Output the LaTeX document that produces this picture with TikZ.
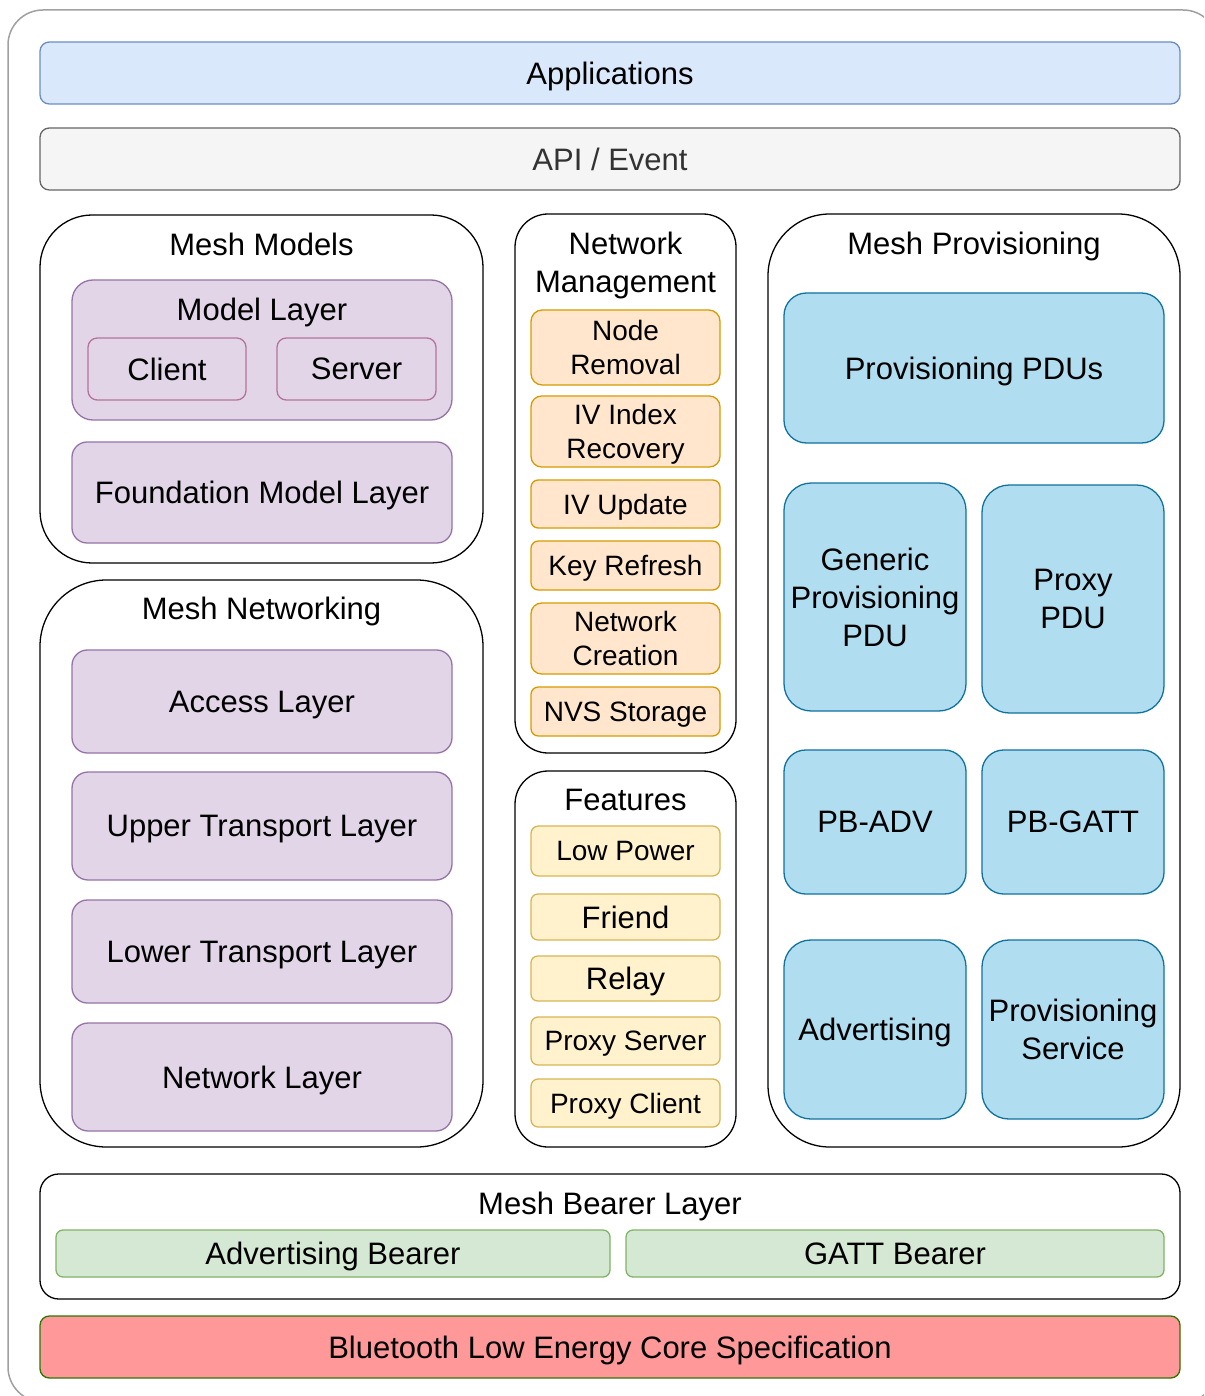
\documentclass[tikz,border=0pt]{standalone}
\usepackage{fontspec}
\setmainfont{Liberation Sans}
\definecolor{appF}{HTML}{DAE8FC}\definecolor{appS}{HTML}{6C8EBF}
\definecolor{apiF}{HTML}{F5F5F5}\definecolor{apiS}{HTML}{666666}\definecolor{apiT}{HTML}{333333}
\definecolor{purF}{HTML}{E1D5E7}\definecolor{purS}{HTML}{9673A6}\definecolor{pinkS}{HTML}{B5739D}
\definecolor{orF}{HTML}{FFE6CC}\definecolor{orS}{HTML}{D79B00}
\definecolor{yeF}{HTML}{FFF2CC}\definecolor{yeS}{HTML}{D6B656}
\definecolor{blF}{HTML}{B1DDF0}\definecolor{blS}{HTML}{10739E}
\definecolor{grF}{HTML}{D5E8D4}\definecolor{grS}{HTML}{82B366}
\definecolor{reF}{HTML}{FF9999}\definecolor{reS}{HTML}{2D7600}
\definecolor{frameS}{HTML}{A0A0A0}
\newcommand\bx[7]{%
  \pgfmathsetmacro\bw{#5-#3}\pgfmathsetmacro\bh{#6-#4}%
  \pgfmathsetmacro\br{0.15*min(\bw,\bh)}%
  \pgfmathsetmacro\bcx{(#3+#5)/2}\pgfmathsetmacro\bcy{(#4+#6)/2}%
  \node[#2, minimum width=\bw pt, minimum height=\bh pt, rounded corners=\br pt] (#1) at (\bcx,\bcy) {#7};}
\tikzset{
  every node/.style={font=\fontsize{31}{38}\selectfont, text depth=0pt, align=center, inner sep=0pt, outer sep=0pt},
  lw/.style={line width=1.3pt},
  cont/.style={lw, draw=black, fill=white},
  appbox/.style={lw, draw=appS, fill=appF},
  apibox/.style={lw, draw=apiS, fill=apiF, text=apiT},
  purbox/.style={lw, draw=purS, fill=purF},
  pinkbox/.style={lw, draw=pinkS},
  orbox/.style={lw, draw=orS, fill=orF, font=\fontsize{28}{34}\selectfont},
  yebox/.style={lw, draw=yeS, fill=yeF, font=\fontsize{28}{34}\selectfont},
  yebig/.style={lw, draw=yeS, fill=yeF},
  blbox/.style={lw, draw=blS, fill=blF},
  grbox/.style={lw, draw=grS, fill=grF},
  rebox/.style={lw, draw=reS, fill=reF},
  ttl/.style={},
}
\begin{document}
\begin{tikzpicture}[x=1pt,y=-1pt]
\useasboundingbox (0,0) rectangle (1204,1396);
\begin{scope}
\clip (0,0) rectangle (1204,1396);
\draw[frameS, line width=1.5pt, rounded corners=35pt] (8,10) rectangle (1218,1402);
\end{scope}
% top layers
\bx{app}{appbox}{40}{42}{1180}{104}{Applications}
\bx{api}{apibox}{40}{128}{1180}{190}{API / Event}
% Mesh Models
\bx{mm}{cont}{40}{215}{483}{563}{}
\node[ttl] (mmT) at (261.5,244) {Mesh Models};
\bx{ml}{purbox}{72}{280}{452}{420}{}
\node[ttl] (mlT) at (262,309) {Model Layer};
\bx{cli}{pinkbox}{88}{338}{246}{400}{Client}
\bx{srv}{pinkbox}{277}{338}{436}{400}{Server}
\bx{fml}{purbox}{72}{442}{452}{543}{Foundation Model Layer}
% Mesh Networking
\bx{mn}{cont}{40}{580}{483}{1147}{}
\node[ttl] (mnT) at (261.5,608) {Mesh Networking};
\bx{acc}{purbox}{72}{650}{452}{753}{Access Layer}
\bx{utl}{purbox}{72}{772}{452}{880}{Upper Transport Layer}
\bx{ltl}{purbox}{72}{900}{452}{1003}{Lower Transport Layer}
\bx{nwl}{purbox}{72}{1023}{452}{1131}{Network Layer}
% Network Management
\bx{nm}{cont}{515}{214}{736}{753}{}
\node[ttl] (nmT) at (625.5,262) {Network\\Management};
\bx{nr}{orbox}{531}{310}{720}{385}{Node\\Removal}
\bx{ivr}{orbox}{531}{396}{720}{467}{IV Index\\Recovery}
\bx{ivu}{orbox}{531}{480}{720}{528}{IV Update}
\bx{kr}{orbox}{531}{541}{720}{590}{Key Refresh}
\bx{nc}{orbox}{531}{603}{720}{674}{Network\\Creation}
\bx{nvs}{orbox}{531}{687}{720}{736}{NVS Storage}
% Features
\bx{ft}{cont}{515}{771}{736}{1147}{}
\node[ttl] (ftT) at (625.5,800) {Features};
\bx{lp}{yebox}{531}{826}{720}{876}{Low Power}
\bx{fr}{yebig}{531}{894}{720}{940}{Friend}
\bx{rl}{yebig}{531}{956}{720}{1001}{Relay}
\bx{ps}{yebox}{531}{1017}{720}{1065}{Proxy Server}
\bx{pc}{yebox}{531}{1079}{720}{1127}{Proxy Client}
% Mesh Provisioning
\bx{mp}{cont}{768}{214}{1180}{1147}{}
\node[ttl] (mpT) at (974,243) {Mesh Provisioning};
\bx{ppdu}{blbox}{784}{293}{1164}{443}{Provisioning PDUs}
\bx{gpp}{blbox}{784}{483}{966}{711}{Generic\\Provisioning\\PDU}
\bx{prx}{blbox}{982}{485}{1164}{713}{Proxy\\PDU}
\bx{pba}{blbox}{784}{750}{966}{894}{PB-ADV}
\bx{pbg}{blbox}{982}{750}{1164}{894}{PB-GATT}
\bx{adv}{blbox}{784}{940}{966}{1119}{Advertising}
\bx{psv}{blbox}{982}{940}{1164}{1119}{Provisioning\\Service}
% Bearer
\bx{mb}{cont}{40}{1174}{1180}{1299}{}
\node[ttl] (mbT) at (610,1203) {Mesh Bearer Layer};
\bx{ab}{grbox}{56}{1230}{610}{1277}{Advertising Bearer}
\bx{gb}{grbox}{626}{1230}{1164}{1277}{GATT Bearer}
\bx{ble}{rebox}{40}{1316}{1180}{1378}{Bluetooth Low Energy Core Specification}
\end{tikzpicture}
\end{document}
